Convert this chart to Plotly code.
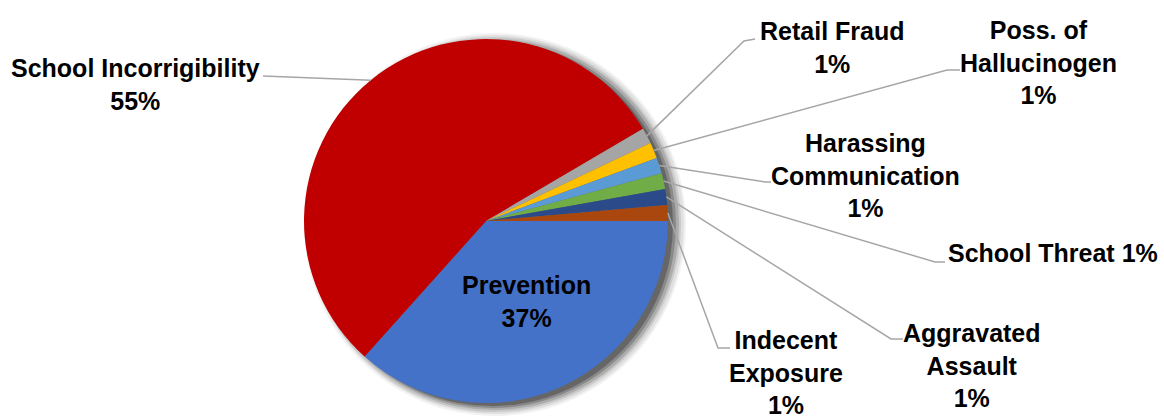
import math
import plotly.graph_objects as go

# ---- data ----
categories = ["Prevention", "School Incorrigibility", "Retail Fraud", "Poss. of Hallucinogen",
              "Harassing Communication", "School Threat", "Aggravated Assault", "Indecent Exposure"]
counts = [26, 39, 1, 1, 1, 1, 1, 1]
label_lines = [["Prevention"], ["School Incorrigibility"], ["Retail Fraud"], ["Poss. of", "Hallucinogen"],
               ["Harassing", "Communication"], ["School Threat"], ["Aggravated", "Assault"], ["Indecent", "Exposure"]]
colors = ["#4472C8", "#C00000", "#A5A5A5", "#FFC000", "#5B9BD5", "#70AD47", "#2B4A8A", "#A9470F"]

# ---- layout constants (pixels) ----
W, H = 1164, 420
CX, CY, R = 486, 221, 182
FONT = "Liberation Sans, Arial, sans-serif"
FS = 25

# label positions (x, y, xanchor) and leader elbows (pixel coords)
label_pos = [(526, 301, "center"), (135, 85, "center"), (832, 47, "center"), (1038, 62, "center"),
             (865, 175, "center"), (1160, 253, "right"), (972, 365, "center"), (786, 372, "center")]
elbows = [None, ((263, 76), (263, 76)), ((744, 41), (755, 39)), ((947, 70), (960, 70)),
          ((765, 182), (771, 182)), ((935, 262), (945, 262)), ((891, 339), (903, 339)), ((718, 348), (730, 348))]
same_line_pct = [False, False, False, False, False, True, False, False]

def px(x):
    return x / W

def py(y):
    return 1 - y / H

total = sum(counts)

fig = go.Figure()
fig.add_trace(go.Pie(
    labels=categories, values=counts, sort=False, direction="clockwise", rotation=90,
    marker=dict(colors=colors, line=dict(width=0)),
    textinfo="none", hoverinfo="label+percent", showlegend=False,
    domain=dict(x=[px(CX - R), px(CX + R)], y=[py(CY + R), py(CY - R)]),
))

shapes = []
# soft shadow
for off, extra, op in [(8, 10, 0.05), (8, 8, 0.07), (7, 6, 0.10), (7, 4, 0.14), (6, 2, 0.20), (5, 0, 0.25)]:
    shapes.append(dict(type="circle", xref="paper", yref="paper", layer="below",
                       x0=px(CX - R + off - extra + 2), x1=px(CX + R + off + extra),
                       y0=py(CY + R + 3 + extra), y1=py(CY - R + 1 - extra + 3),
                       fillcolor="rgba(0,0,0,%.2f)" % op, line=dict(width=0)))

annotations = []
cum = 0
for i, (cat, v) in enumerate(zip(categories, counts)):
    mid = (cum + v / 2) / total * 2 * math.pi
    cum += v
    pct = "%d%%" % round(v / total * 100)
    if same_line_pct[i]:
        text = "<b>" + label_lines[i][0] + " " + pct + "</b>"
    else:
        text = "<b>" + "<br>".join(label_lines[i] + [pct]) + "</b>"
    lx, ly, anc = label_pos[i]
    annotations.append(dict(x=px(lx), y=py(ly), xref="paper", yref="paper", text=text,
                            showarrow=False, xanchor=anc, yanchor="middle", align="center",
                            font=dict(family=FONT, size=FS, color="black")))
    if elbows[i] is not None:
        ex, ey = CX + R * math.cos(mid), CY + R * math.sin(mid)
        (ax, ay), (bx, by) = elbows[i]
        path = "M %f %f L %f %f L %f %f" % (px(ex), py(ey), px(ax), py(ay), px(bx), py(by))
        shapes.append(dict(type="path", xref="paper", yref="paper", path=path,
                           line=dict(color="#A6A6A6", width=1.5)))

fig.update_layout(width=W, height=H, margin=dict(l=0, r=0, t=0, b=0),
                  paper_bgcolor="white", plot_bgcolor="white",
                  shapes=shapes, annotations=annotations)
fig.write_html("out.html", config={"displayModeBar": False},
               post_script="document.body.style.margin='0';document.body.style.overflow='hidden';")
